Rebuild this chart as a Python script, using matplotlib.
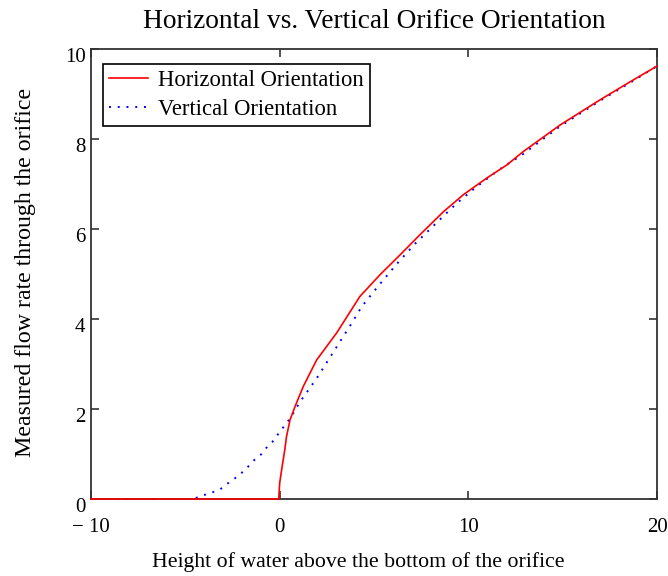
import matplotlib
matplotlib.use("Agg")
import matplotlib.pyplot as plt
import matplotlib.transforms as mtransforms

# Flow rate vs. water height
h_horizontal = [-10, -0.05, 0, 0.1, 0.27, 0.36, 0.55, 0.81, 1.25, 1.96, 3.02, 4.25,
                5.31, 6.37, 7.43, 8.67, 9.73, 10.97, 12.03, 12.91, 14.86, 16.98, 18.57, 20]
q_horizontal = [0, 0, 0.35, 0.64, 1.09, 1.38, 1.76, 2.05, 2.5, 3.09, 3.69, 4.5,
                4.98, 5.42, 5.87, 6.38, 6.76, 7.13, 7.42, 7.72, 8.31, 8.87, 9.27, 9.62]

h_vertical = [-10, -4.58, -4.14, -3.7, -3.2, -2.81, -2.43, -2.02, -1.67, -1.31, -0.96,
              -0.66, -0.29, -0.04, 0.28, 0.6, 1.08, 1.96, 3.02, 3.81, 4.34, 5.22, 6.2,
              7.17, 8.32, 9.38, 10.44, 11.67, 12.82, 14.86, 16.98, 18.57, 20]
q_vertical = [0, 0, 0.07, 0.13, 0.2, 0.33, 0.44, 0.58, 0.72, 0.88, 1.0,
              1.16, 1.31, 1.47, 1.64, 1.82, 2.16, 2.68, 3.38, 3.9, 4.27, 4.73, 5.22,
              5.67, 6.14, 6.57, 6.94, 7.33, 7.64, 8.28, 8.85, 9.25, 9.62]

xticks = [-10, 0, 10, 20]
xtick_labels = ["\u2212 10", "0", "10", "20"]
yticks = [0, 2, 4, 6, 8, 10]

plt.rcParams["font.family"] = ["Liberation Serif", "DejaVu Serif"]

fig = plt.figure(figsize=(6.68, 5.76), dpi=100)
ax = fig.add_axes([91 / 668, 77 / 576, 566 / 668, 450 / 576])

ax.plot(h_vertical, q_vertical, color="blue", lw=1.4, linestyle=(0, (1, 3.5)),
        clip_on=False, zorder=2, label="Vertical Orientation")
ax.plot(h_horizontal, q_horizontal, color="red", lw=1.2,
        clip_on=False, zorder=3, label="Horizontal Orientation")

ax.set_xlim(-10, 20)
ax.set_ylim(0, 10)
ax.set_xticks(xticks)
ax.set_xticklabels(xtick_labels)
ax.set_yticks(yticks)
ax.tick_params(direction="in", length=6, width=1.2, color="#333333",
               top=True, right=True, labelsize=15)
ax.tick_params(axis="x", pad=14)
ax.tick_params(axis="y", pad=4)
# y tick labels sit a little below their ticks, as in the original
shift = mtransforms.ScaledTranslation(0, 1 / 72, fig.dpi_scale_trans)
for lbl in ax.get_yticklabels():
    lbl.set_va("top")
    lbl.set_transform(lbl.get_transform() + shift)
for s in ax.spines.values():
    s.set_color("#333333")
    s.set_linewidth(1.3)

ax.set_title("Horizontal vs. Vertical Orifice Orientation", fontsize=19.7, pad=15)
ax.set_xlabel("Height of water above the bottom of the orifice", fontsize=15.7)
ax.xaxis.set_label_coords((358 - 91) / 566, (576 - 562 - 77) / 450)
ax.xaxis.label.set_va("center")
ax.set_ylabel("Measured flow rate through the orifice", fontsize=17.2)
ax.yaxis.set_label_coords((26 - 91) / 566, (576 - 272 - 77) / 450)
ax.yaxis.label.set_va("center")

handles, labels = ax.get_legend_handles_labels()
leg = ax.legend(handles[::-1], labels[::-1], loc="upper left", fontsize=16.3,
                fancybox=False, framealpha=1, edgecolor="black",
                handlelength=1.75, handletextpad=0.45, borderpad=0.25,
                labelspacing=0.37, borderaxespad=0,
                bbox_to_anchor=((103 - 91) / 566, (499 - 64) / 450))
leg.get_frame().set_linewidth(1.2)

fig.savefig("out.png", dpi=100)
